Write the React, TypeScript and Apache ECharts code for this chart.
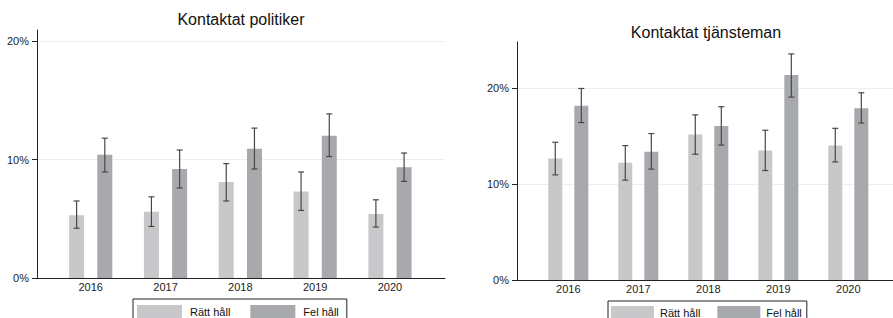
import React, { useEffect, useRef } from "react";
import * as echarts from "echarts";

const years = ["2016", "2017", "2018", "2019", "2020"];
const seriesNames = ["Rätt håll", "Fel håll"];
const yTickValues = [0, 10, 20];

const politikerRatt = [5.3, 5.6, 8.1, 7.3, 5.4];
const politikerRattLow = [4.2, 4.35, 6.5, 5.7, 4.3];
const politikerRattHigh = [6.5, 6.85, 9.65, 8.95, 6.6];
const politikerFel = [10.4, 9.2, 10.9, 12.0, 9.35];
const politikerFelLow = [8.95, 7.6, 9.2, 10.25, 8.15];
const politikerFelHigh = [11.8, 10.8, 12.65, 13.85, 10.55];

const tjanstemanRatt = [12.65, 12.2, 15.15, 13.5, 14.0];
const tjanstemanRattLow = [10.95, 10.4, 13.1, 11.4, 12.3];
const tjanstemanRattHigh = [14.35, 14.0, 17.2, 15.6, 15.8];
const tjanstemanFel = [18.15, 13.35, 16.05, 21.35, 17.9];
const tjanstemanFelLow = [16.4, 11.55, 14.05, 19.05, 16.35];
const tjanstemanFelHigh = [19.95, 15.25, 18.05, 23.55, 19.5];

const titles = ["Kontaktat politiker", "Kontaktat tjänsteman"];

const FONT = "'Liberation Sans', Arial, Helvetica, sans-serif";
const LIGHT = "#c8c8ca";
const DARK = "#a8a9ac";
const ERR = "#484848";
const AXIS = "#222";

export default function App() {
  const ref = useRef<HTMLDivElement>(null);

  useEffect(() => {
    if (!ref.current) return;
    const chart = echarts.init(ref.current, undefined, { renderer: "svg" });

    const panels = [
      {
        ratt: politikerRatt, rattLo: politikerRattLow, rattHi: politikerRattHigh,
        fel: politikerFel, felLo: politikerFelLow, felHi: politikerFelHigh,
        max: 20.93, barWidth: 15, gap: 0.88,
        gridA: { left: 37, right: 448, top: 30, bottom: 40 },
        gridB: { left: 53.3, right: 465.6, top: 30, bottom: 40 },
      },
      {
        ratt: tjanstemanRatt, rattLo: tjanstemanRattLow, rattHi: tjanstemanRattHigh,
        fel: tjanstemanFel, felLo: tjanstemanFelLow, felHi: tjanstemanFelHigh,
        max: 24.79, barWidth: 14, gap: 0.86,
        gridA: { left: 517, right: 0, top: 42, bottom: 38 },
        gridB: { left: 533.3, right: 9.7, top: 42, bottom: 38 },
      },
    ];

    const grid: any[] = [];
    const xAxis: any[] = [];
    const yAxis: any[] = [];
    const series: any[] = [];

    const errSeries = (lo: number[], hi: number[], axisIdx: number, offset: number) => ({
      type: "custom",
      xAxisIndex: axisIdx,
      yAxisIndex: axisIdx,
      silent: true,
      z: 10,
      data: lo.map((l, i) => [i, l, hi[i]]),
      encode: { x: 0, y: [1, 2] },
      renderItem: (_p: any, api: any) => {
        const i = api.value(0);
        const a = api.coord([i, api.value(1)]);
        const b = api.coord([i, api.value(2)]);
        const x = a[0] + offset;
        const cap = 3;
        const style = { stroke: ERR, lineWidth: 1.2 };
        return {
          type: "group",
          children: [
            { type: "line", shape: { x1: x, y1: b[1], x2: x, y2: a[1] }, style },
            { type: "line", shape: { x1: x - cap, y1: b[1], x2: x + cap, y2: b[1] }, style },
            { type: "line", shape: { x1: x - cap, y1: a[1], x2: x + cap, y2: a[1] }, style },
          ],
        };
      },
    });

    panels.forEach((p, k) => {
      const aIdx = k * 2;
      const bIdx = k * 2 + 1;
      grid.push({ ...p.gridA, containLabel: false });
      grid.push({ ...p.gridB, containLabel: false });
      xAxis.push({
        type: "value", gridIndex: aIdx, min: 0, max: 1,
        axisLine: { show: true, lineStyle: { color: AXIS, width: 1 } },
        axisTick: { show: false }, axisLabel: { show: false }, splitLine: { show: false },
      });
      xAxis.push({
        type: "category", gridIndex: bIdx, data: years,
        axisLine: { show: false }, axisTick: { show: false },
        axisLabel: { show: true, margin: 3, fontSize: 11, color: AXIS, fontFamily: FONT },
      });
      yAxis.push({
        type: "value", gridIndex: aIdx, min: 0, max: p.max, interval: 10,
        axisLine: { show: true, lineStyle: { color: AXIS, width: 1 } },
        axisTick: { show: true, length: 5, lineStyle: { color: AXIS }, customValues: yTickValues },
        axisLabel: {
          margin: 8, fontSize: 11, color: AXIS, fontFamily: FONT,
          customValues: yTickValues,
          formatter: (v: number) => (yTickValues.includes(v) ? `${v}%` : ""),
        },
        splitLine: { show: true, lineStyle: { color: "#eeeeee", width: 1 } },
      });
      yAxis.push({ type: "value", gridIndex: bIdx, min: 0, max: p.max, show: false });

      const offset = (p.barWidth * (1 + p.gap)) / 2;
      series.push({
        type: "bar", name: seriesNames[0], xAxisIndex: bIdx, yAxisIndex: bIdx,
        data: p.ratt, barWidth: p.barWidth, barGap: `${p.gap * 100}%`,
        itemStyle: { color: LIGHT }, silent: true,
      });
      series.push({
        type: "bar", name: seriesNames[1], xAxisIndex: bIdx, yAxisIndex: bIdx,
        data: p.fel, barWidth: p.barWidth, barGap: `${p.gap * 100}%`,
        itemStyle: { color: DARK }, silent: true,
      });
      series.push(errSeries(p.rattLo, p.rattHi, bIdx, -offset));
      series.push(errSeries(p.felLo, p.felHi, bIdx, offset));
    });

    const legendBase = {
      orient: "horizontal",
      icon: "rect",
      data: seriesNames,
      borderColor: AXIS,
      borderWidth: 1,
      borderRadius: 0,
      selectedMode: false,
      itemHeight: 14,
    };

    chart.setOption({
      animation: false,
      backgroundColor: "#ffffff",
      grid,
      xAxis,
      yAxis,
      series,
      legend: [
        {
          ...legendBase,
          left: 133, top: 299,
          padding: [6, 8, 6, 4],
          itemWidth: 45,
          itemGap: 20,
          textStyle: { fontSize: 11, color: "#111", fontFamily: FONT, padding: [0, 0, 0, 3] },
        },
        {
          ...legendBase,
          left: 608, top: 301,
          padding: [5, 5, 5, 3],
          itemWidth: 43,
          itemGap: 17,
          textStyle: { fontSize: 11, color: "#111", fontFamily: FONT, padding: [0, 0, 0, 1] },
        },
      ],
      graphic: [
        {
          type: "text", x: 241, y: 19,
          style: { text: titles[0], fontSize: 16, fontFamily: FONT, fill: "#111", align: "center", verticalAlign: "middle" },
        },
        {
          type: "text", x: 706, y: 32,
          style: { text: titles[1], fontSize: 16, fontFamily: FONT, fill: "#111", align: "center", verticalAlign: "middle" },
        },
      ],
    });

    return () => chart.dispose();
  }, []);

  return (
    <div
      ref={ref}
      style={{ position: "fixed", left: 0, top: 0, width: 893, height: 318, background: "#fff" }}
    />
  );
}
